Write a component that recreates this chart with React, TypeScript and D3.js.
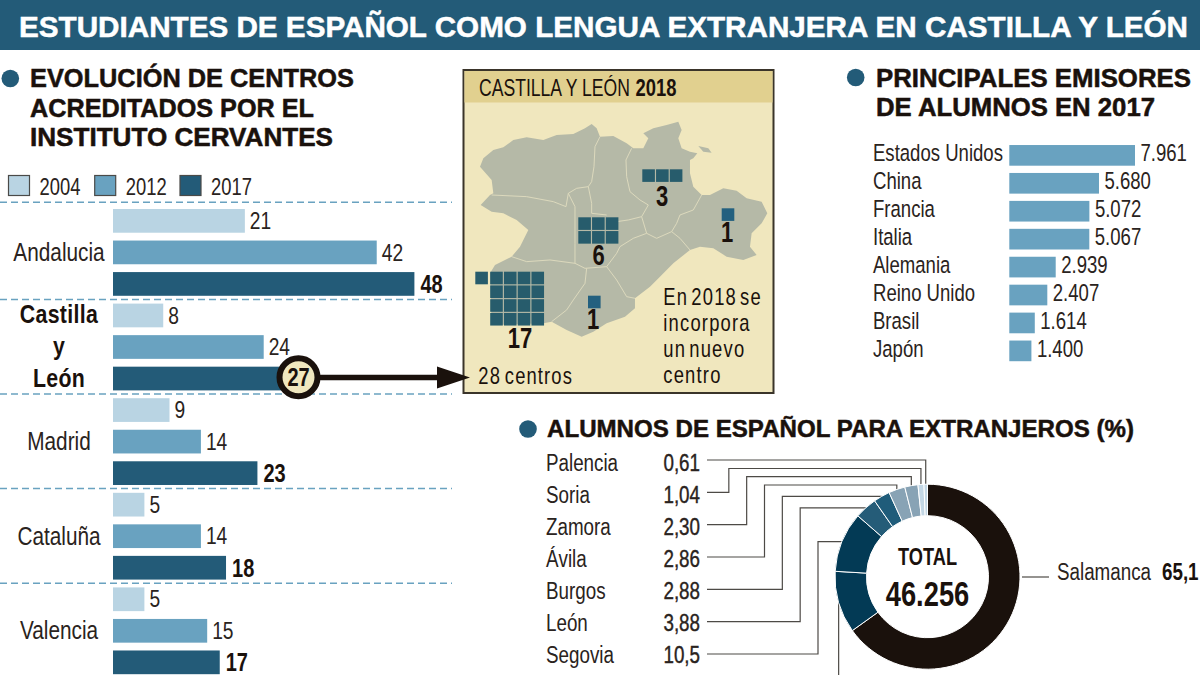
import * as d3 from 'd3';

const SANS = '"Liberation Sans", Arimo, sans-serif';
const INK = '#1a110c';
const TEXT = '#2a2320';
const DARK = '#235b78';
const MID = '#69a2c0';
const LIGHT = '#b9d4e3';

const years = ['2004', '2012', '2017'];
const yearColors = [LIGHT, MID, DARK];
const regions = ['Andalucia', 'Castilla y León', 'Madrid', 'Cataluña', 'Valencia'];
const centers2004 = [21, 8, 9, 5, 5];
const centers2012 = [42, 24, 14, 14, 15];
const centers2017 = [48, 27, 23, 18, 17];

const countries = ['Estados Unidos', 'China', 'Francia', 'Italia', 'Alemania', 'Reino Unido', 'Brasil', 'Japón'];
const students = [7961, 5680, 5072, 5067, 2939, 2407, 1614, 1400];

// clockwise from 12 o'clock; the Valladolid label is cut off in the picture, its share is estimated
const provinces = ['Salamanca', 'Valladolid', 'Segovia', 'León', 'Burgos', 'Ávila', 'Zamora', 'Soria', 'Palencia'];
const shares = [65.1, 10.83, 10.5, 3.88, 2.88, 2.86, 2.3, 1.04, 0.61];
const shareLabels = ['65,1', '', '10,5', '3,88', '2,88', '2,86', '2,30', '1,04', '0,61'];
const sliceColors = ['#1a110c', '#033a55', '#033a55', '#255c78', '#1f5c7a', '#88a3b5', '#88a3b5', '#c3d7e5', '#c3d7e5'];

const mapCounts = [3, 6, 1, 1, 17];

// map silhouette, traced by hand
const outline: [number, number][] = [
  [60, 320], [70, 295], [100, 270], [130, 262], [160, 240], [200, 232], [250, 240], [290, 225], [340, 222], [375, 205],
  [395, 192], [410, 205], [420, 230], [460, 228], [500, 250], [520, 265], [550, 265], [565, 235], [550, 220], [580, 205],
  [620, 195], [655, 185], [665, 210], [655, 235], [665, 265], [690, 275], [712, 280], [700, 295], [690, 300], [690, 340],
  [700, 380], [725, 405], [750, 405], [790, 385], [830, 392], [860, 415], [905, 425], [922, 460], [905, 490], [875, 520],
  [870, 560], [890, 585], [850, 600], [800, 590], [760, 565], [720, 560], [690, 570], [640, 610], [600, 650], [570, 680],
  [525, 715], [525, 745], [495, 770], [440, 790], [400, 815], [365, 830], [320, 810], [275, 785], [250, 790], [95, 795],
  [90, 640], [105, 615], [155, 590], [180, 560], [205, 510], [170, 480], [130, 460], [95, 455], [62, 435], [90, 405],
  [100, 400], [95, 360], [60, 320],
];
const islet: [number, number][] = [[715, 258], [745, 265], [755, 278], [730, 275]];
const borders: [number, number][][] = [
  [[420, 230], [405, 260], [402, 320], [395, 365], [385, 380], [350, 385], [325, 400], [318, 440]],
  [[95, 405], [200, 410], [280, 425], [318, 440]],
  [[515, 265], [498, 300], [500, 350], [510, 395], [540, 420], [565, 435]],
  [[385, 380], [395, 430], [395, 460], [440, 465]],
  [[725, 405], [700, 450], [660, 465], [650, 490], [635, 515]],
  [[565, 435], [545, 470], [505, 480], [470, 485]],
  [[545, 470], [560, 520], [590, 535], [635, 515]],
  [[635, 515], [660, 535], [690, 570]],
  [[560, 520], [520, 535], [480, 560], [470, 580], [440, 620]],
  [[325, 400], [345, 440], [345, 550], [345, 610]],
  [[155, 590], [200, 605], [270, 600], [345, 610], [375, 625], [440, 620]],
  [[440, 620], [470, 660], [500, 710], [525, 715]],
  [[380, 625], [375, 670], [340, 720], [320, 750], [275, 785]],
];

const esLocale = d3.formatLocale({ decimal: ',', thousands: '.', grouping: [3], currency: ['', ''] });
const formatThousands = esLocale.format(',');

const x = d3.scaleLinear().domain([0, 48]).range([113, 414.4]);
const groupY = d3.scaleBand().domain(regions).range([205.1, 205.1 + 94.6 * 5]);
const barY = d3.scaleBand().domain(years).range([0, 94.6]).paddingInner(0.248).paddingOuter(0.124);
const dashYs = [202.3, ...regions.slice(0, 4).map((r) => (groupY(r) as number) + 94.3)];

const xStudents = d3.scaleLinear().domain([0, 7961]).range([1009.3, 1135]);
const yStudents = d3.scaleBand().domain(countries).range([141.4, 141.4 + 27.93 * 8]).paddingInner(0.26).paddingOuter(0.13);

const pie = d3.pie<number>().sort(null).startAngle(0).endAngle(2 * Math.PI);
const arcs = pie(shares);
const center = { x: 927.5, y: 576.7 };
const outerR = 92.5;
const innerR = 61;
const arcPath = d3.arc<d3.PieArcDatum<number>>().innerRadius(innerR).outerRadius(outerR);

const rowNames = ['Palencia', 'Soria', 'Zamora', 'Ávila', 'Burgos', 'León', 'Segovia'];
const rowY = d3.scalePoint().domain(rowNames).range([460, 654]);
const rowTextY = d3.scalePoint().domain(rowNames).range([470.7, 662.7]);
const elbowX = d3.scalePoint().domain(rowNames).range([711, 818]);
const elbowTop: Record<string, number | null> = { Palencia: null, Soria: 468.5, Zamora: 476.7, 'Ávila': 485, Burgos: null, 'León': null, Segovia: null };

function rimPoint(name: string) {
  const a = arcs[provinces.indexOf(name)];
  const mid = (a.startAngle + a.endAngle) / 2;
  return { x: center.x + outerR * Math.sin(mid), y: center.y - outerR * Math.cos(mid) };
}

function leaderPath(name: string) {
  const p = rimPoint(name);
  const y0 = rowY(name) as number;
  if (name === 'Palencia') return `M707,${y0}H${p.x}V${p.y}`;
  const ex = elbowX(name) as number;
  const top = elbowTop[name] ?? p.y;
  return `M707,${y0}H${ex}V${top}H${p.x}V${p.y}`;
}

const mapLine = d3.line<[number, number]>();
const square = 12.6;
const pitch = 13.75;

// top-left of each block of centres
const blocks = [
  { x: 642.3, y: 169.3, cols: 3, color: '#275c6c' },
  { x: 578.3, y: 217.3, cols: 3, color: '#275c6c' },
  { x: 721.7, y: 208.3, cols: 1, color: '#23607f' },
  { x: 588, y: 295.7, cols: 1, color: '#23607f' },
  { x: 490.2, y: 271.7, cols: 4, color: '#275c6c' },
];
const blockLabelPos = [
  { x: 662, y: 206 },
  { x: 598.7, y: 265 },
  { x: 727, y: 241.7 },
  { x: 593, y: 329 },
  { x: 520, y: 347.7 },
];

// no condensed font is installed, so squeeze Liberation Sans horizontally
function N({ x, y, size = 23.5, weight = 400, anchor = 'start', fill = TEXT, sx = 0.8, ls = 0, ws = 0, children, thick = 0 }: any) {
  return (
    <text transform={`translate(${x},${y}) scale(${sx},1)`} fontFamily={SANS} fontSize={size} fontWeight={weight} textAnchor={anchor} fill={fill} letterSpacing={ls} wordSpacing={ws} stroke={thick ? fill : 'none'} strokeWidth={thick}>
      {children}
    </text>
  );
}

function Heading({ x, y, width, size = 25, fill = INK, children }: any) {
  return (
    <text x={x} y={y} textLength={width} lengthAdjust="spacingAndGlyphs" fontFamily={SANS} fontSize={size} fontWeight={700} fill={fill} stroke={fill} strokeWidth={0.5}>
      {children}
    </text>
  );
}

export default function App() {
  const seriesByYear = [centers2004, centers2012, centers2017];
  return (
    <svg width={1200} height={675} viewBox="0 0 1200 675" style={{ position: 'absolute', left: 0, top: 0, display: 'block', background: '#fff' }}>
      <rect x={0} y={0} width={1200} height={50} fill={DARK} />
      <Heading x={19} y={37} width={1169} size={29} fill="#fff">ESTUDIANTES DE ESPAÑOL COMO LENGUA EXTRANJERA EN CASTILLA Y LEÓN</Heading>

      {/* left block */}
      <circle cx={10.3} cy={78.5} r={8.8} fill={DARK} />
      <Heading x={30} y={87} width={324}>EVOLUCIÓN DE CENTROS</Heading>
      <Heading x={30} y={117} width={284}>ACREDITADOS POR EL</Heading>
      <Heading x={30} y={146} width={303}>INSTITUTO CERVANTES</Heading>

      {years.map((y, i) => {
        const lx = [8.5, 94.7, 180][i];
        return (
          <g key={y}>
            <rect x={lx} y={175.5} width={21} height={20} fill={yearColors[i]} stroke="#4a4a48" strokeWidth={1.2} />
            <N x={lx + 31} y={194.5} size={23}>{y}</N>
          </g>
        );
      })}

      {dashYs.map((d) => (
        <line key={d} x1={0} x2={452} y1={d} y2={d} stroke={MID} strokeWidth={1.5} strokeDasharray="7 4" />
      ))}

      {regions.map((r, ri) => (
        <g key={r} transform={`translate(0,${groupY(r)})`}>
          {years.map((y, yi) => {
            const v = seriesByYear[yi][ri];
            const isLast = yi === 2;
            const by = barY(y) as number;
            return (
              <g key={y}>
                <rect x={x(0)} y={by} width={x(v) - x(0)} height={barY.bandwidth()} fill={yearColors[yi]} />
                {!(r === 'Castilla y León' && isLast) && (
                  <N x={x(v) + (isLast ? 6 : 5)} y={by + (isLast ? 21 : 20)} size={isLast ? 25 : 24} weight={isLast ? 700 : 400} fill={isLast ? INK : TEXT}>
                    {v}
                  </N>
                )}
              </g>
            );
          })}
        </g>
      ))}

      {regions.map((r) =>
        r === 'Castilla y León' ? (
          ['Castilla', 'y', 'León'].map((w, i) => (
            <N key={w} x={59} y={323 + i * 32} anchor="middle" size={26} sx={0.82} ls={0.4} weight={700} fill={INK}>{w}</N>
          ))
        ) : (
          <N key={r} x={59} y={(groupY(r) as number) + 55.6} anchor="middle" size={26}>{r}</N>
        ),
      )}

      {/* map panel */}
      <rect x={463.5} y={70} width={310} height={323} fill="#f0e7be" stroke="#3a342a" strokeWidth={2} />
      <rect x={464.5} y={71} width={308} height={31.5} fill="#e1d08f" />
      <N x={479} y={96} size={23} fill={INK} sx={0.765}>CASTILLA Y LEÓN</N>
      <N x={635.5} y={96} size={23} weight={700} fill={INK}>2018</N>

      <g transform="translate(460,60) scale(0.3333)">
        <path d={(mapLine(outline) as string) + 'Z'} fill="#b5b9a7" />
        <path d={(mapLine(islet) as string) + 'Z'} fill="#b5b9a7" />
        {borders.map((b, i) => (
          <path key={i} d={mapLine(b) as string} fill="none" stroke="#dcd9bd" strokeWidth={3} />
        ))}
      </g>

      {blocks.map((b, bi) => {
        const n = mapCounts[bi];
        const gridN = n === 17 ? 16 : n;
        return (
          <g key={bi}>
            {d3.range(gridN).map((k) => (
              <rect key={k} x={b.x + (k % b.cols) * pitch} y={b.y + Math.floor(k / b.cols) * pitch} width={square} height={square} fill={b.color} />
            ))}
            {n === 17 && <rect x={b.x - 14.9} y={b.y} width={square} height={square} fill={b.color} />}
            <N x={blockLabelPos[bi].x} y={blockLabelPos[bi].y} anchor="middle" size={29} sx={0.76} weight={700} fill={INK}>{n}</N>
          </g>
        );
      })}

      {['En 2018 se', 'incorpora', 'un nuevo', 'centro'].map((t, i) => (
        <N key={t} x={663.3} y={305 + i * 25.9} size={23} sx={0.8} ls={1.5} ws={-4} fill={INK}>{t}</N>
      ))}
      <N x={478.3} y={384} size={23} sx={0.8} ls={1.4} ws={-3} fill={INK}>28 centros</N>

      {/* arrow from the 27 to the panel */}
      <line x1={318} x2={440} y1={377.5} y2={377.5} stroke={INK} strokeWidth={5.5} />
      <path d="M437,366.5L470,377.5L437,388.5Z" fill={INK} />
      <circle cx={298.5} cy={377.3} r={19} fill="#f0e7be" stroke={INK} strokeWidth={6} />
      <N x={298.5} y={386} anchor="middle" size={25} weight={700} fill={INK}>{centers2017[1]}</N>

      {/* top right block */}
      <circle cx={855.7} cy={77.5} r={8.8} fill={DARK} />
      <Heading x={876} y={87} width={315}>PRINCIPALES EMISORES</Heading>
      <Heading x={876} y={116} width={279}>DE ALUMNOS EN 2017</Heading>

      {countries.map((c, i) => {
        const by = yStudents(c) as number;
        return (
          <g key={c}>
            <N x={873} y={by + 16} size={23.5} sx={0.79}>{c}</N>
            <rect x={xStudents(0)} y={by} width={xStudents(students[i]) - xStudents(0)} height={yStudents.bandwidth()} fill={MID} />
            <N x={xStudents(students[i]) + 5.5} y={by + 16} size={23.5} sx={0.79}>{formatThousands(students[i])}</N>
          </g>
        );
      })}

      {/* donut block */}
      <circle cx={528} cy={429} r={8.8} fill={DARK} />
      <Heading x={547} y={437} width={587} size={24}>ALUMNOS DE ESPAÑOL PARA EXTRANJEROS (%)</Heading>

      {rowNames.map((name) => (
        <g key={name}>
          <path d={leaderPath(name)} fill="none" stroke="#4d4a46" strokeWidth={1.2} />
          <N x={546} y={rowTextY(name)}>{name}</N>
          <N x={700} y={rowTextY(name)} anchor="end" thick={0.4}>{shareLabels[provinces.indexOf(name)]}</N>
        </g>
      ))}
      <path d={`M${rimPoint('Valladolid').x},${rimPoint('Valladolid').y}V675`} fill="none" stroke="#4d4a46" strokeWidth={1.2} />

      <g transform={`translate(${center.x},${center.y})`}>
        {arcs.map((a, i) => (
          <path key={provinces[i]} d={arcPath(a) as string} fill={sliceColors[i]} stroke="#fff" strokeWidth={1} />
        ))}
      </g>
      <N x={927.5} y={565} anchor="middle" size={24} sx={0.76} weight={700} fill={INK}>TOTAL</N>
      <N x={927.5} y={606} anchor="middle" size={35} sx={0.78} weight={700} fill={INK}>46.256</N>

      <line x1={1022} x2={1049} y1={577} y2={577} stroke="#4d4a46" strokeWidth={1.2} />
      <N x={1057} y={580}>{provinces[0]}</N>
      <N x={1162} y={580} weight={700} fill={INK}>{shareLabels[0]}</N>
    </svg>
  );
}
